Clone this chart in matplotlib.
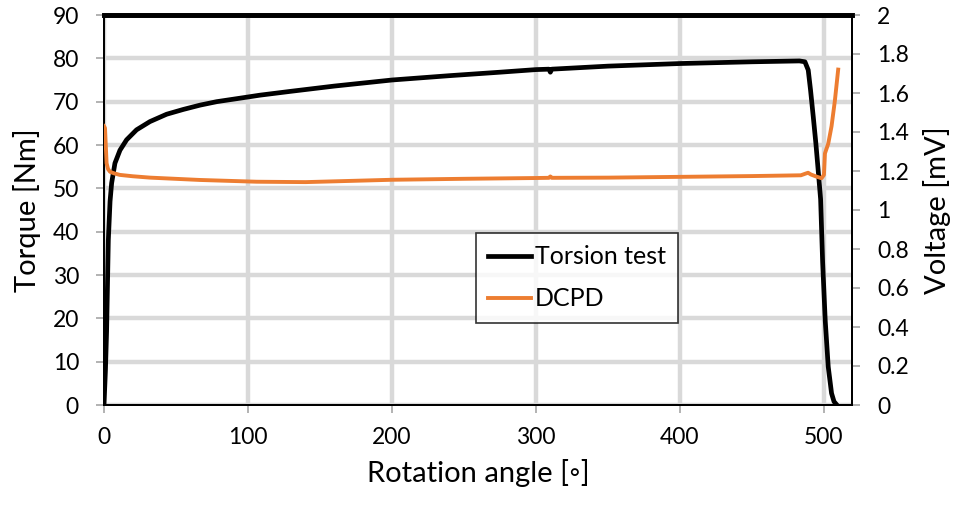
import matplotlib
matplotlib.use("Agg")
import matplotlib.pyplot as plt
from matplotlib.lines import Line2D

plt.rcParams['font.family'] = ['Lato', 'DejaVu Sans']

# Torsion test: rotation angle [deg] vs torque [Nm]
torque_angle = [0, 1, 1.8, 3, 4.2, 5.3, 7.6, 11.1, 15.7, 22.6, 31.9, 43.5, 55, 66.7, 78.3,
                94.4, 108.3, 130, 160, 200, 240, 275, 300, 309, 310, 311, 350, 400, 450,
                483, 486.8, 489.1, 490.7, 492.6, 494.4, 496, 497.7, 499.1, 500.9, 503,
                505.3, 507, 509]
torque_nm = [0, 8, 17, 38, 47, 51.2, 55.8, 58.8, 61.2, 63.5, 65.4, 67.1, 68.2, 69.2, 70.0,
             70.8, 71.5, 72.4, 73.6, 75.0, 76.0, 76.8, 77.4, 77.5, 76.8, 77.5, 78.2, 78.8, 79.2,
             79.4, 79.2, 77.3, 72.7, 66.5, 60.4, 54.2, 47.5, 33, 19.5, 8.8,
             2.7, 0.8, 0]

# DCPD: rotation angle [deg] vs voltage [mV]
dcpd_angle = [0, 0.7, 1.8, 2.8, 4.2, 7, 11, 20, 32, 66.7, 106, 140, 200, 250, 300, 309,
              310, 311, 350, 400, 450, 484, 487, 489, 491, 494.9, 498.3, 500, 500.7, 503,
              505.3, 507.6, 509.9]
dcpd_mv = [1.43, 1.42, 1.24, 1.21, 1.196, 1.188, 1.18, 1.173, 1.166, 1.154, 1.145, 1.143,
           1.155, 1.16, 1.164, 1.165, 1.172, 1.165, 1.166, 1.170, 1.174, 1.178, 1.186, 1.191,
           1.182, 1.171, 1.163, 1.18, 1.29, 1.34, 1.43, 1.56, 1.72]

x_ticks = [0, 100, 200, 300, 400, 500]
left_ticks = [0, 10, 20, 30, 40, 50, 60, 70, 80, 90]
right_ticks = [0, 0.2, 0.4, 0.6, 0.8, 1, 1.2, 1.4, 1.6, 1.8, 2]
right_labels = ['0', '0.2', '0.4', '0.6', '0.8', '1', '1.2', '1.4', '1.6', '1.8', '2']

black = '#000000'
orange = '#ED7D31'
grid_c = '#D9D9D9'
tick_c = '#A6A6A6'

fig = plt.figure(figsize=(9.69, 5.05), dpi=100)
ax = fig.add_axes([104 / 969, 1 - 405 / 505, (852 - 104) / 969, (405 - 15) / 505])
ax2 = ax.twinx()

ax.plot(torque_angle, torque_nm, color=black, lw=3.4, solid_joinstyle='round', zorder=3)
ax2.plot(dcpd_angle, dcpd_mv, color=orange, lw=2.8, solid_joinstyle='round', zorder=3)

ax.set_xlim(0, 519.5)
ax.set_ylim(0, 90)
ax2.set_ylim(0, 2)
ax.set_xticks(x_ticks)
ax.set_yticks(left_ticks)
ax2.set_yticks(right_ticks)
ax2.set_yticklabels(right_labels)

ax.grid(True, color=grid_c, lw=3.2, zorder=0)
ax.set_axisbelow(True)

for a in (ax, ax2):
    for s in a.spines.values():
        s.set_color(black)
        s.set_linewidth(1.4)
ax.spines['top'].set_linewidth(3.4)
ax2.spines['top'].set_linewidth(3.4)

ax.tick_params(axis='both', colors=tick_c, labelcolor='black', labelsize=16.5, length=6, width=1.2)
ax.tick_params(axis='y', pad=12)
ax.tick_params(axis='x', pad=10)
ax2.tick_params(axis='y', colors=tick_c, labelcolor='black', labelsize=16.5, length=6, width=1.2, pad=12)

ax.set_xlabel('Rotation angle [\u25e6]', fontsize=21, labelpad=8)
ax.set_ylabel('Torque [Nm]', fontsize=21, labelpad=8)
ax2.set_ylabel('Voltage [mV]', fontsize=21, labelpad=10)

handles = [Line2D([], [], color=black, lw=3.4), Line2D([], [], color=orange, lw=2.8)]
leg = ax2.legend(handles, ['Torsion test', 'DCPD'], loc='upper left',
                 bbox_to_anchor=((476 - 104) / 748, 1 - (233 - 15) / 390),
                 frameon=True, fancybox=False, edgecolor='black', fontsize=18,
                 handlelength=1.7, handletextpad=0.15, borderpad=0.5, labelspacing=0.75,
                 borderaxespad=0)
leg.get_frame().set_linewidth(1.2)

fig.savefig('out.png', dpi=100)
